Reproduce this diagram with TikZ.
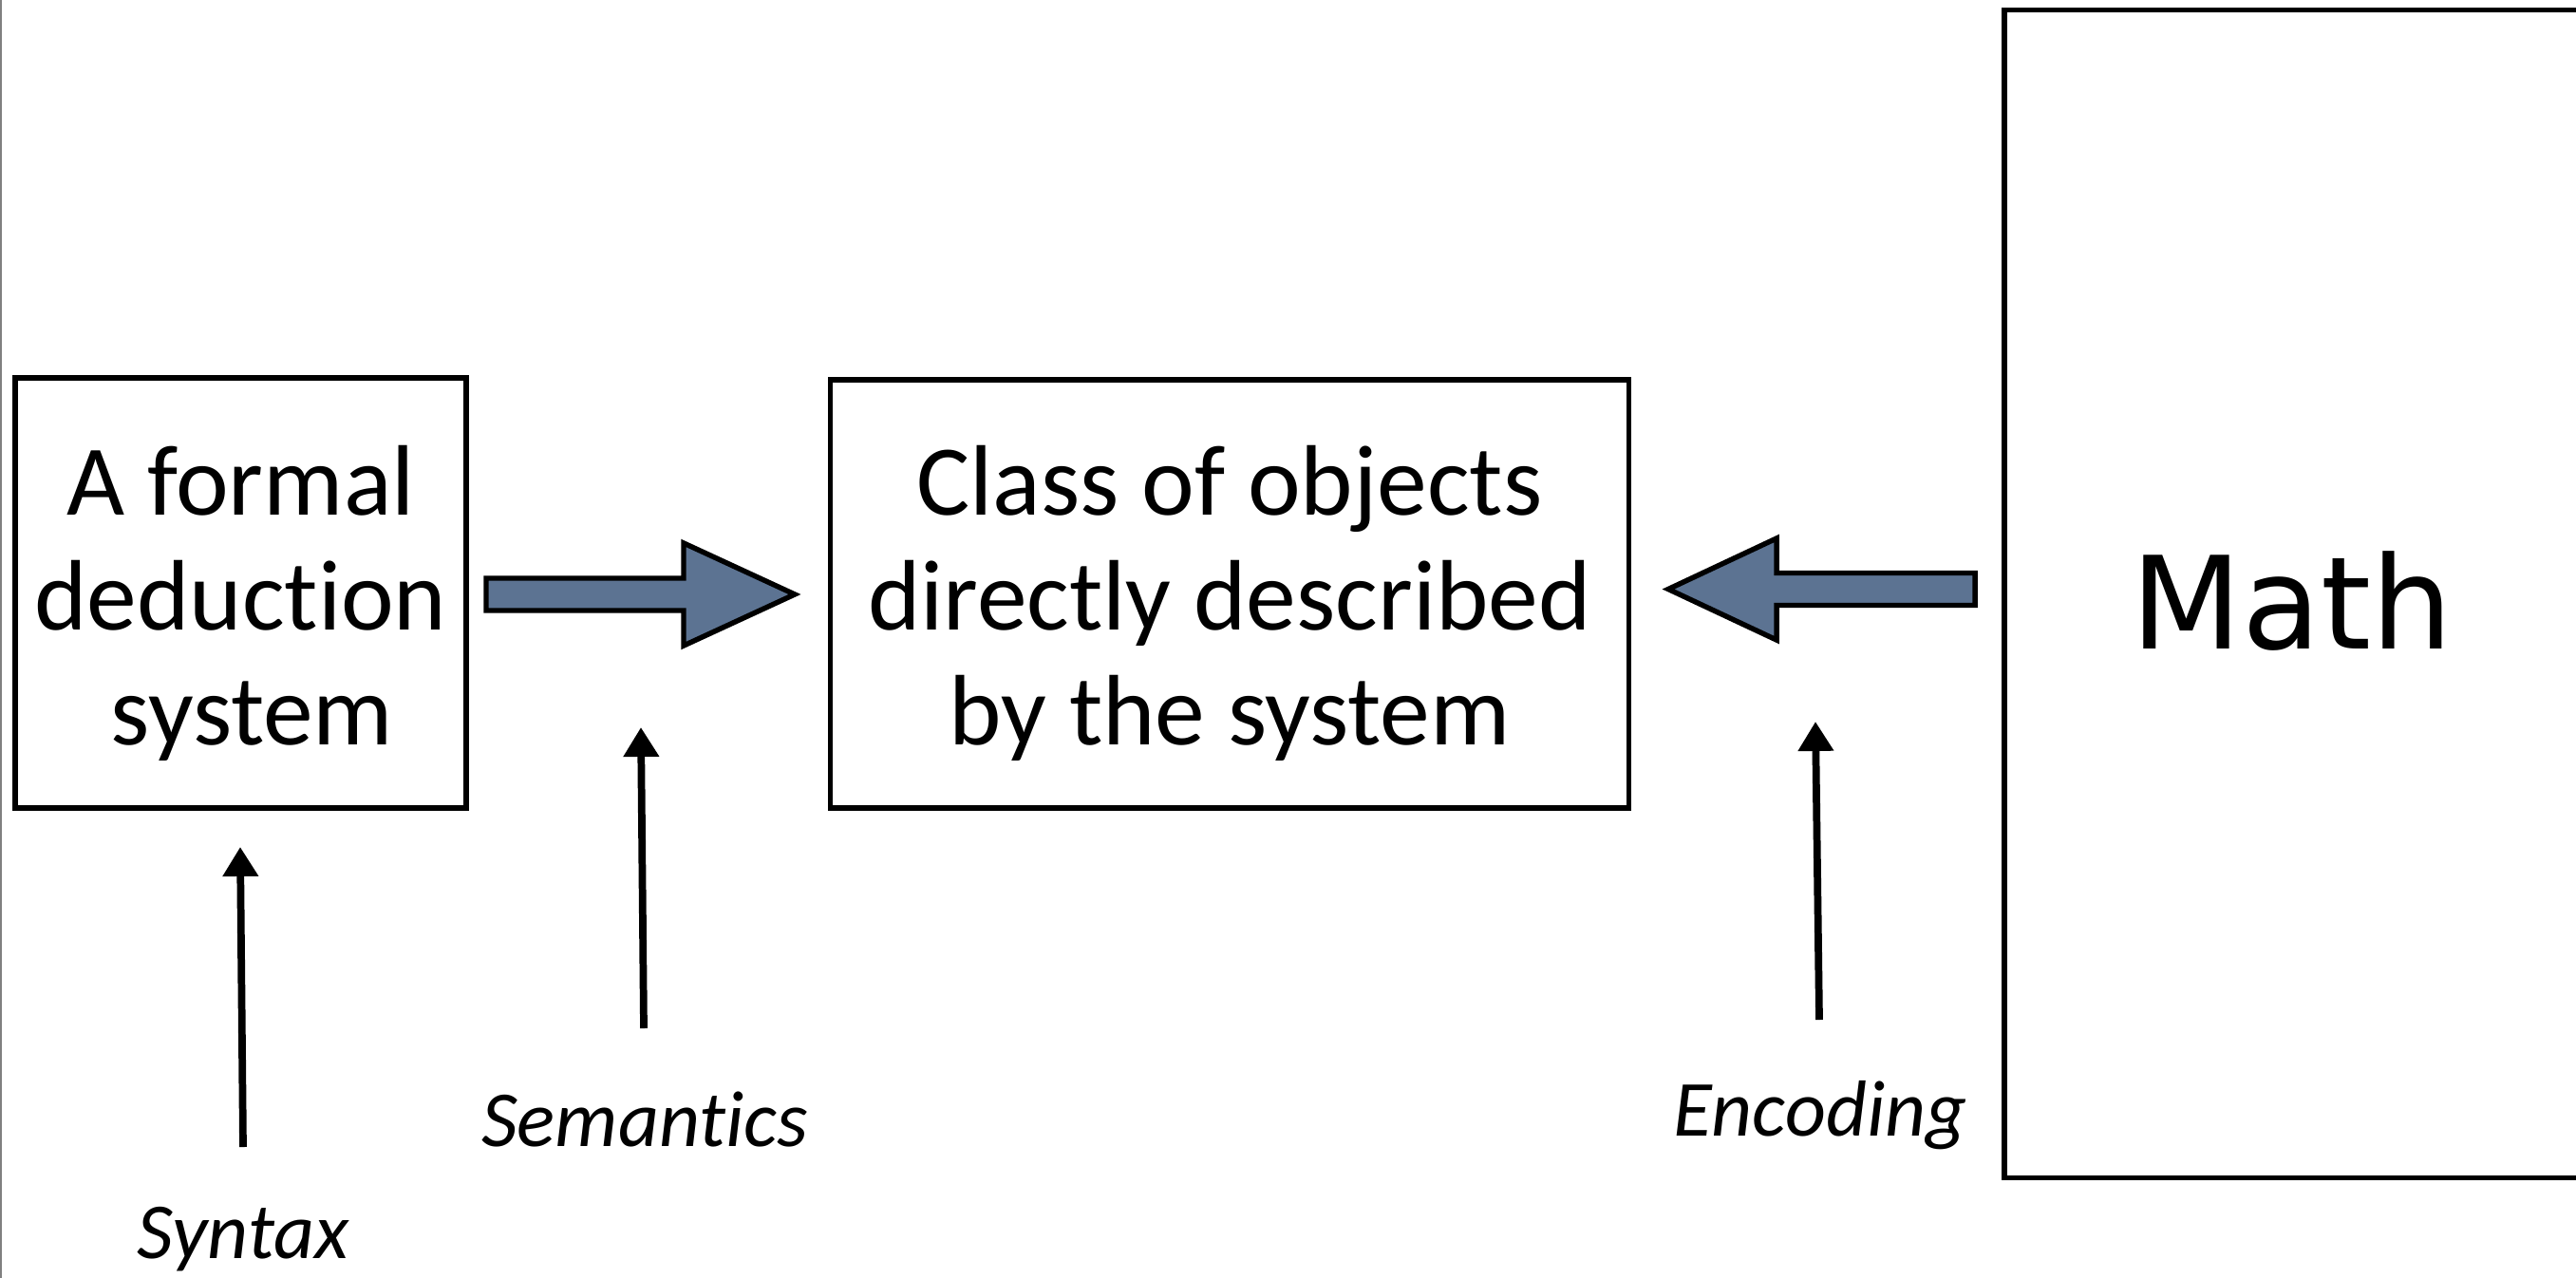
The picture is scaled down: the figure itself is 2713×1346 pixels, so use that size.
\documentclass[tikz,border=0pt]{standalone}
\usepackage{fontspec}
\setmainfont{Carlito}[Ligatures=NoCommon]
\newfontfamily\mathfamily{DejaVu Sans}
\usetikzlibrary{arrows.meta}
\definecolor{arrowblue}{RGB}{92,115,146}
\begin{document}
\begin{tikzpicture}[x=0.01cm,y=-0.01cm,
  box/.style={draw, line width=1.55pt, inner sep=0pt},
  boxtext/.style={font=\fontsize{30}{34.4}\selectfont, align=center, inner sep=0pt},
  lbl/.style={font=\fontsize{23.8}{28}\selectfont\itshape, inner sep=0pt, anchor=base},
  uparrow/.style={line width=2.2pt, -{Triangle[width=10.2pt,length=8.8pt]}},
  blockarrow/.style={draw, line width=1.55pt, fill=arrowblue, line join=miter}]
\useasboundingbox (0,0) rectangle (2713,1346);
\fill[white] (0,0) rectangle (2713,1346);
\draw[gray, line width=0.57pt] (1,0) -- (1,1346);

\node[box, minimum width=4.75cm, minimum height=4.53cm] (b1) at (253.5,624.5) {};
\node[box, minimum width=8.40cm, minimum height=4.51cm] (b2) at (1295,625.5) {};
\node[box, minimum width=6.06cm, minimum height=12.29cm] (b3) at (2414,625.5) {};

\node[boxtext, anchor=base] (t1) at (253.5,784) {A formal\\deduction\\\ system};
\node[boxtext, anchor=base] (t2) at (1295,784) {Class of objects\\directly described\\by the system};
\node[font=\mathfamily\fontsize{38.5}{44}\selectfont, anchor=base, inner sep=0pt] (m) at (2414,683) {Math};

\draw[blockarrow] (512,609) -- (720,609) -- (720,572) -- (837,626) -- (720,680) -- (720,643) -- (512,643) -- cycle;
\draw[blockarrow] (2080,603.5) -- (1871,603.5) -- (1871,567) -- (1757,620.5) -- (1871,674) -- (1871,637.5) -- (2080,637.5) -- cycle;

\node[lbl] (syn) at (256,1325) {Syntax};
\node[lbl] (sem) at (679,1207) {Semantics};
\node[lbl] (enc) at (1917,1196) {Encoding};

\coordinate (s0) at (256,1208);
\coordinate (s1) at (253,892);
\coordinate (m0) at (678,1083);
\coordinate (m1) at (675,766);
\coordinate (e0) at (1916,1074);
\coordinate (e1) at (1912,760);
\draw[uparrow] (s0) -- (s1);
\draw[uparrow] (m0) -- (m1);
\draw[uparrow] (e0) -- (e1);
\end{tikzpicture}
\end{document}
